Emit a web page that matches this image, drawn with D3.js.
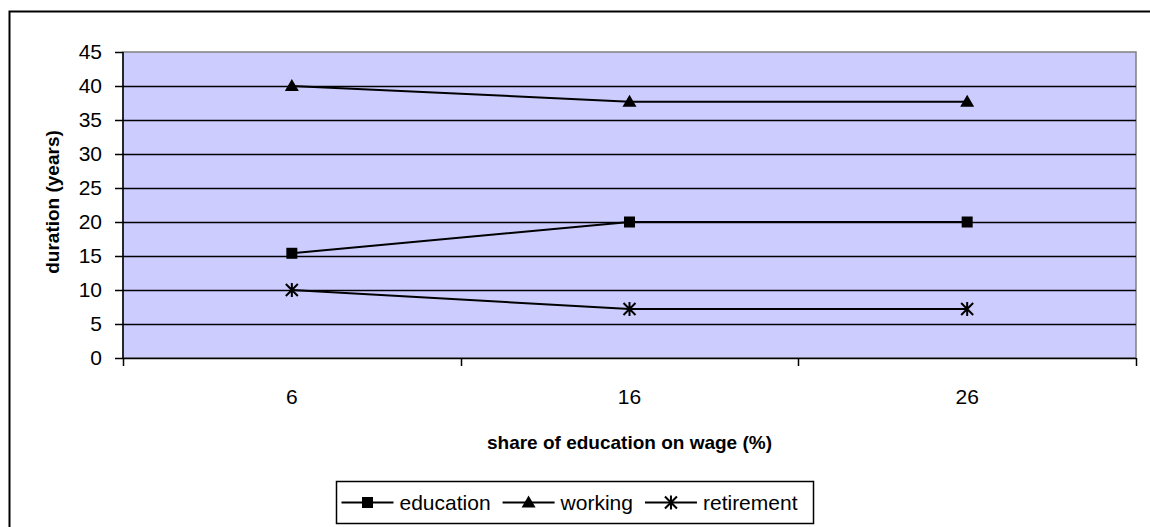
<!DOCTYPE html>
<html>
<head>
<meta charset="utf-8">
<script src="https://cdn.jsdelivr.net/npm/d3@7/dist/d3.min.js"></script>
<style>
  html, body { margin: 0; padding: 0; background: #fff; }
  svg { display: block; font-family: "Liberation Sans", Arial, sans-serif; }
</style>
</head>
<body>
<svg id="chart" width="1150" height="527"></svg>
<script>
// Lifetime phase durations by share of education on wage
const categories = ["6", "16", "26"];
const education = [15.4, 20, 20];
const working = [40, 37.7, 37.7];
const retirement = [10, 7.2, 7.2];
const yTicks = [0, 5, 10, 15, 20, 25, 30, 35, 40, 45];
const seriesNames = ["education", "working", "retirement"];

const FONT = "'Liberation Sans', Arial, sans-serif";
const svg = d3.select("#chart");
const plot = { left: 123, right: 1136, top: 52, bottom: 358 };

// outer frame
svg.append("rect")
  .attr("x", 9.5).attr("y", 11.5)
  .attr("width", 1150).attr("height", 530)
  .attr("fill", "none").attr("stroke", "#000").attr("stroke-width", 2);

const x = d3.scaleBand().domain(categories).range([plot.left, plot.right]);
const y = d3.scaleLinear().domain([0, 45]).range([plot.bottom, plot.top]);

// plot area background
svg.append("rect")
  .attr("x", plot.left).attr("y", plot.top)
  .attr("width", plot.right - plot.left).attr("height", plot.bottom - plot.top)
  .attr("fill", "#ccccff")
  .attr("stroke", "#808080").attr("stroke-width", 1.5);

// horizontal gridlines
svg.append("g").selectAll("line")
  .data(yTicks.filter(t => t > 0 && t < 45))
  .join("line")
  .attr("x1", plot.left).attr("x2", plot.right)
  .attr("y1", d => Math.round(y(d)) + 0.5).attr("y2", d => Math.round(y(d)) + 0.5)
  .attr("stroke", "#000").attr("stroke-width", 1.5);

// y axis
const yAxis = svg.append("g")
  .attr("transform", `translate(${plot.left},0)`)
  .call(d3.axisLeft(y).tickValues(yTicks).tickSize(8).tickPadding(13));
yAxis.attr("font-size", 21).attr("font-family", FONT);
yAxis.select(".domain").attr("stroke", "#000").attr("stroke-width", 1.5).attr("d", `M0,${plot.top}V${plot.bottom + 1}`);
yAxis.selectAll(".tick line").attr("stroke", "#000").attr("stroke-width", 1.5);
yAxis.selectAll(".tick text").attr("fill", "#000");

// x axis: ticks on category boundaries
const xAxisG = svg.append("g").attr("transform", `translate(0,${plot.bottom})`);
xAxisG.append("line")
  .attr("x1", plot.left).attr("x2", plot.right)
  .attr("y1", 0.5).attr("y2", 0.5)
  .attr("stroke", "#000").attr("stroke-width", 1.5);
const bounds = categories.map(c => x(c)).concat([x(categories[categories.length - 1]) + x.bandwidth()]);
xAxisG.selectAll("line.tk").data(bounds).join("line").attr("class", "tk")
  .attr("x1", d => Math.round(d) + 0.5).attr("x2", d => Math.round(d) + 0.5)
  .attr("y1", 0).attr("y2", 8)
  .attr("stroke", "#000").attr("stroke-width", 1.5);
xAxisG.selectAll("text").data(categories).join("text")
  .attr("x", d => x(d) + x.bandwidth() / 2)
  .attr("y", 46)
  .attr("text-anchor", "middle")
  .attr("font-size", 21).attr("fill", "#000")
  .text(d => d);

// axis titles
svg.append("text")
  .attr("x", (plot.left + plot.right) / 2).attr("y", 449)
  .attr("text-anchor", "middle").attr("font-size", 19).attr("font-weight", "bold")
  .text("share of education on wage (%)");
svg.append("text")
  .attr("transform", `translate(59,${(plot.top + plot.bottom) / 2 - 3}) rotate(-90)`)
  .attr("text-anchor", "middle").attr("font-size", 19).attr("font-weight", "bold")
  .text("duration (years)");

// marker shapes
function drawMarker(g, kind, cx, cy) {
  if (kind === "education") {
    g.append("rect").attr("x", cx - 5.5).attr("y", cy - 5.5).attr("width", 11).attr("height", 11).attr("fill", "#000");
  } else if (kind === "working") {
    g.append("path").attr("d", `M${cx},${cy - 7}L${cx + 7},${cy + 5}L${cx - 7},${cy + 5}Z`).attr("fill", "#000");
  } else {
    const r = 6;
    g.append("path")
      .attr("d", `M${cx - r},${cy - r}L${cx + r},${cy + r}M${cx - r},${cy + r}L${cx + r},${cy - r}M${cx},${cy - r - 1}L${cx},${cy + r + 1}`)
      .attr("stroke", "#000").attr("stroke-width", 2).attr("fill", "none");
  }
}

const seriesData = { education, working, retirement };
const line = d3.line()
  .x((d, i) => x(categories[i]) + x.bandwidth() / 2)
  .y(d => y(d));

seriesNames.forEach(name => {
  const vals = seriesData[name];
  const g = svg.append("g");
  g.append("path").attr("d", line(vals)).attr("fill", "none").attr("stroke", "#000").attr("stroke-width", 2);
  vals.forEach((v, i) => drawMarker(g, name, x(categories[i]) + x.bandwidth() / 2, y(v)));
});

// legend: entries laid out left to right from measured text widths
const legend = svg.append("g").attr("font-size", 21);
const box = { x: 336.5, y: 481.5, w: 477, h: 42 };
legend.append("rect")
  .attr("x", box.x).attr("y", box.y).attr("width", box.w).attr("height", box.h)
  .attr("fill", "#fff").attr("stroke", "#000").attr("stroke-width", 1.5);
const lineLen = 52, gap = 6, spacing = 12;
const cy = box.y + box.h / 2;
let cursor = box.x + 5;
seriesNames.forEach(name => {
  const cx = cursor + lineLen / 2;
  legend.append("line").attr("x1", cursor).attr("x2", cursor + lineLen)
    .attr("y1", cy).attr("y2", cy).attr("stroke", "#000").attr("stroke-width", 2);
  drawMarker(legend, name, cx, cy);
  const t = legend.append("text").attr("x", cursor + lineLen + gap).attr("y", cy + 7.5)
    .attr("fill", "#000").text(name);
  cursor += lineLen + gap + t.node().getComputedTextLength() + spacing;
});
</script>
</body>
</html>
